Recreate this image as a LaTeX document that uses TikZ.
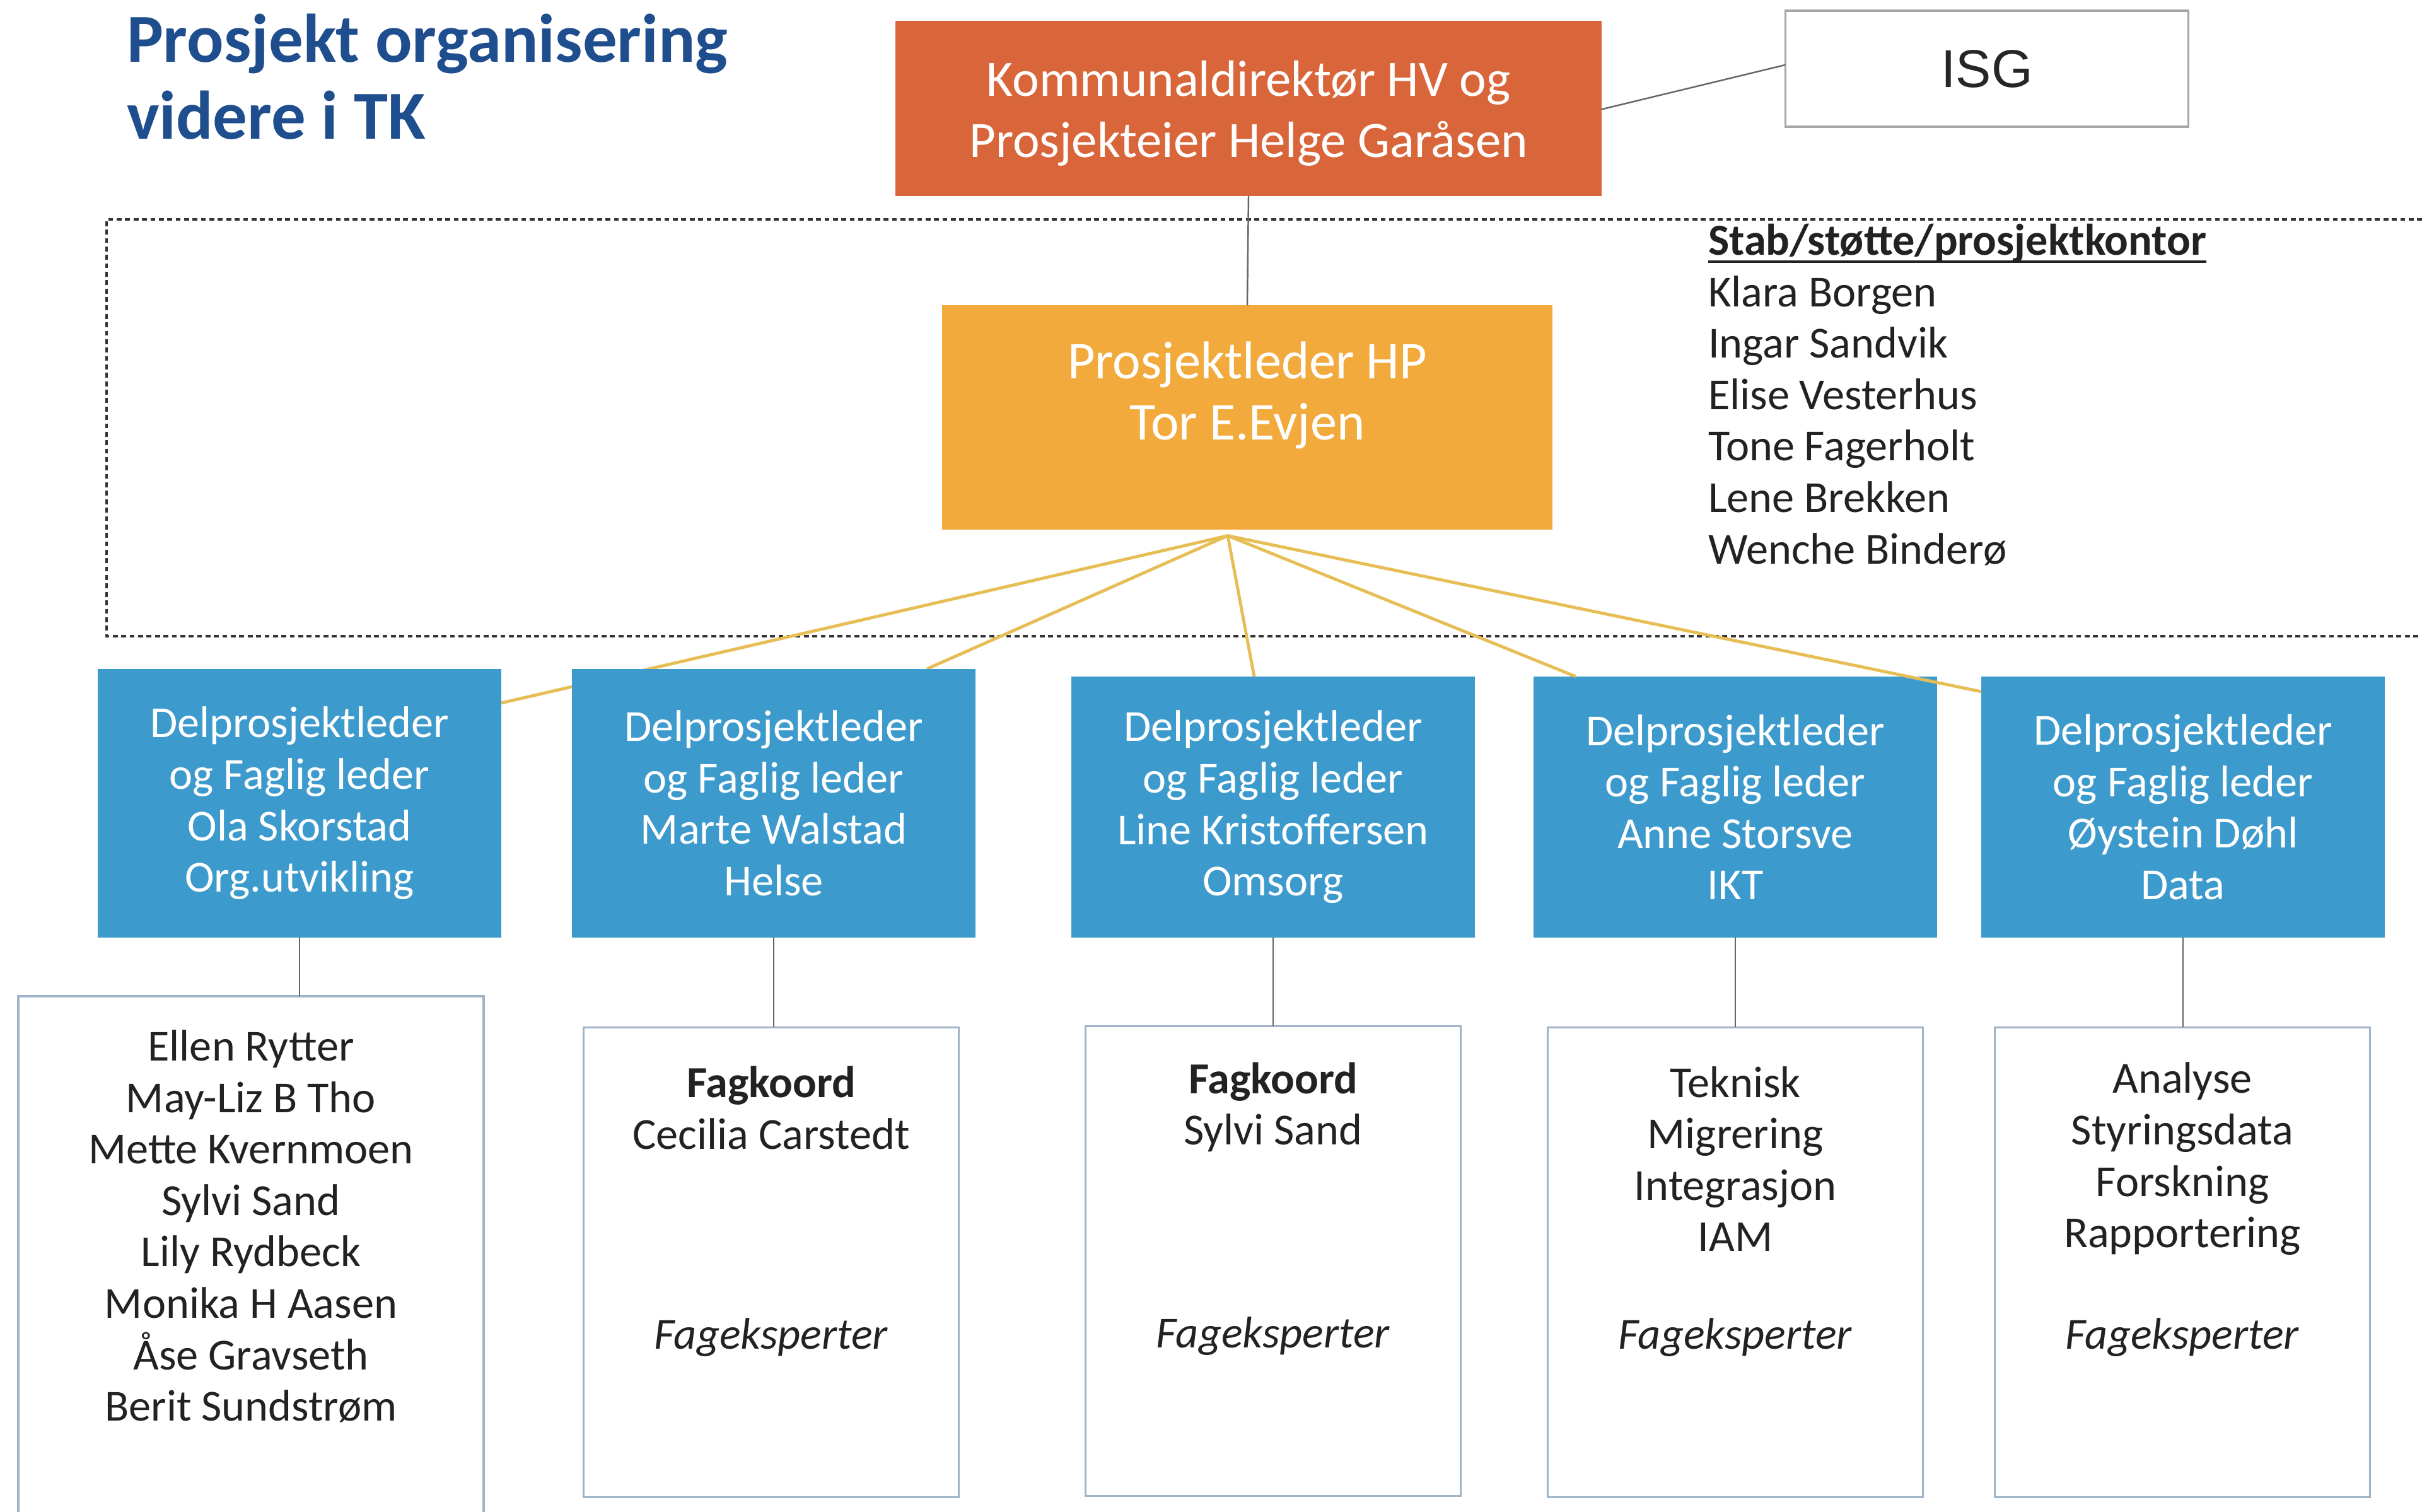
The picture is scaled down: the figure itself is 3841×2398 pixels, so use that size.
\documentclass[tikz,border=0pt]{standalone}
\usepackage{fontspec}
\setmainfont{Carlito}
\newfontfamily\arialfont{Liberation Sans}
\usetikzlibrary{calc}
\definecolor{cRed}{HTML}{D9663A}
\definecolor{cOrange}{HTML}{F2AA3C}
\definecolor{cBlue}{HTML}{3C9ACC}
\definecolor{cTitle}{HTML}{1F4E8E}
\definecolor{cGold}{HTML}{E6BE55}
\definecolor{cWBorder}{HTML}{9FB4C8}
\definecolor{cText}{HTML}{222222}
\tikzset{
  every node/.style={inner sep=0pt, outer sep=0pt},
  fbig/.style={font=\fontsize{24}{27.5}\selectfont},
  fmid/.style={font=\fontsize{20}{23.2}\selectfont},
  redbox/.style={fill=cRed, minimum width=11.19cm, minimum height=2.77cm},
  orbox/.style={fill=cOrange, minimum width=9.68cm, minimum height=3.55cm},
  boxtext/.style={text=white, fbig, align=center},
  bluebox/.style={fill=cBlue, text=white, fmid, align=center, minimum width=6.4cm},
  whitebox/.style={draw=cWBorder, line width=0.9pt, fill=white, minimum width=5.95cm, minimum height=7.45cm},
  listtext/.style={fmid, text=cText, align=center},
  goldline/.style={draw=cGold, line width=1.4pt},
  grayline/.style={draw=gray!80!black, line width=0.7pt},
}
\newcommand{\ulbold}[1]{\setbox0\hbox{\textbf{#1}}\rlap{\rule[-3.5pt]{\wd0}{1.2pt}}\box0}
\begin{document}
\begin{tikzpicture}[x=0.01cm, y=-0.01cm]
\useasboundingbox (0,0) rectangle (3841,2398);
\fill[white] (0,0) rectangle (3841,2398);

% title
\node[anchor=west, text=cTitle, font=\fontsize{31}{34.7}\selectfont\bfseries, align=left] (title) at (201,122) {Prosjekt organisering\\videre i TK};

% dashed region (open at right)
\draw[gray!40!black, line width=0.9pt, dash pattern=on 2.2pt off 1.6pt] (3841,348) -- (169,348) -- (169,1009) -- (3841,1009);

% top boxes
\node[redbox] (kd) at (1980,172) {};
\node[boxtext, font=\fontsize{23}{27.5}\selectfont] (kdt) at ($(kd.center)+(0,8)$) {Kommunaldirektør HV og\\Prosjekteier Helge Garåsen};
\node[draw=gray!70, line width=1pt, fill=white, minimum width=6.39cm, minimum height=1.84cm, font=\arialfont\fontsize{24}{28}\selectfont, text=black!85] (isg) at (3151,109) {ISG};
\coordinate (kdr) at ($(kd.north east)+(0,140)$);
\coordinate (isgl) at ($(isg.north west)+(0,86)$);
\draw[grayline] (kdr) -- (isgl);

\node[orbox] (pl) at (1978,662) {};
\node[boxtext] (plt) at ($(pl.center)+(0,-35)$) {Prosjektleder HP\\Tor E.Evjen};
\draw[grayline] (kd.south) -- (pl.north);

% staff list
\node[anchor=west, fmid, text=cText, align=left] (stab) at (2709,626)
  {\ulbold{Stab/støtte/prosjektkontor}\\Klara Borgen\\Ingar Sandvik\\Elise Vesterhus\\Tone Fagerholt\\Lene Brekken\\Wenche Binderø};

% fan origin
\coordinate (fan) at ($(pl.south)+(-31,10)$);

% blue boxes
\path
  node[bluebox, minimum height=4.26cm] (b1) at (475,1274) {Delprosjektleder\\og Faglig leder\\Ola Skorstad\\Org.utvikling}
  node[bluebox, minimum height=4.26cm] (b2) at (1227,1274) {Delprosjektleder\\og Faglig leder\\Marte Walstad\\Helse}
  node[bluebox, minimum height=4.14cm] (b3) at (2019,1280) {Delprosjektleder\\og Faglig leder\\Line Kristoffersen\\Omsorg}
  node[bluebox, minimum height=4.14cm] (b4) at (2752,1280) {Delprosjektleder\\og Faglig leder\\Anne Storsve\\IKT}
  node[bluebox, minimum height=4.14cm] (b5) at (3462,1280) {Delprosjektleder\\og Faglig leder\\Øystein Døhl\\Data};

% fan lines
\coordinate (e1) at ($(b1.north east)+(0,54)$);
\coordinate (e2) at ($(b2.north)+(243,0)$);
\coordinate (e3) at ($(b3.north)+(-30,0)$);
\coordinate (e4) at ($(b4.north west)+(67,0)$);
\coordinate (e5) at ($(b5.north west)+(0,24)$);
\draw[goldline] (fan) -- (e1);
\draw[goldline] (fan) -- (e2);
\draw[goldline] (fan) -- (e3);
\draw[goldline] (fan) -- (e4);
\draw[goldline] (fan) -- (e5);

% repaint the two left blue boxes over the lines that pass behind them
\path
  node[bluebox, minimum height=4.26cm] at (b1) {Delprosjektleder\\og Faglig leder\\Ola Skorstad\\Org.utvikling}
  node[bluebox, minimum height=4.26cm] at (b2) {Delprosjektleder\\og Faglig leder\\Marte Walstad\\Helse};

% white boxes
\node[minimum width=7.38cm, minimum height=8.2cm] (w1) at (398,1990) {};
\draw[draw=cWBorder, line width=0.9pt] (29,2398) -- (29,1580) -- (767,1580) -- (767,2398);
\node[whitebox] (w2) at (1223,2002) {};
\node[whitebox] (w3) at (2019,2000) {};
\node[whitebox] (w4) at (2752,2002) {};
\node[whitebox] (w5) at (3461,2002) {};

\draw[grayline] (b1.south) -- (b1.south |- w1.north);
\draw[grayline] (b2.south) -- (b2.south |- w2.north);
\draw[grayline] (b3.south) -- (b3.south |- w3.north);
\draw[grayline] (b4.south) -- (b4.south |- w4.north);
\draw[grayline] (b5.south) -- (b5.south |- w5.north);

% texts in white boxes
\node[listtext] (t1) at (398,1945) {Ellen Rytter\\May-Liz B Tho\\Mette Kvernmoen\\Sylvi Sand\\Lily Rydbeck\\Monika H Aasen\\Åse Gravseth\\Berit Sundstrøm};
\node[listtext] (t2) at (1223,1757) {\textbf{Fagkoord}\\Cecilia Carstedt};
\node[listtext] (f2) at (1223,2121) {\textit{Fageksperter}};
\node[listtext] (t3) at (2019,1756) {\textbf{Fagkoord}\\Sylvi Sand};
\node[listtext] (f3) at (2019,2119) {\textit{Fageksperter}};
\node[listtext] (t4) at (2752,1838) {Teknisk\\Migrering\\Integrasjon\\IAM};
\node[listtext] (f4) at (2752,2121) {\textit{Fageksperter}};
\node[listtext] (t5) at (3461,1838) {Analyse\\Styringsdata\\Forskning\\Rapportering};
\node[listtext] (f5) at (3461,2121) {\textit{Fageksperter}};
\end{tikzpicture}
\end{document}
